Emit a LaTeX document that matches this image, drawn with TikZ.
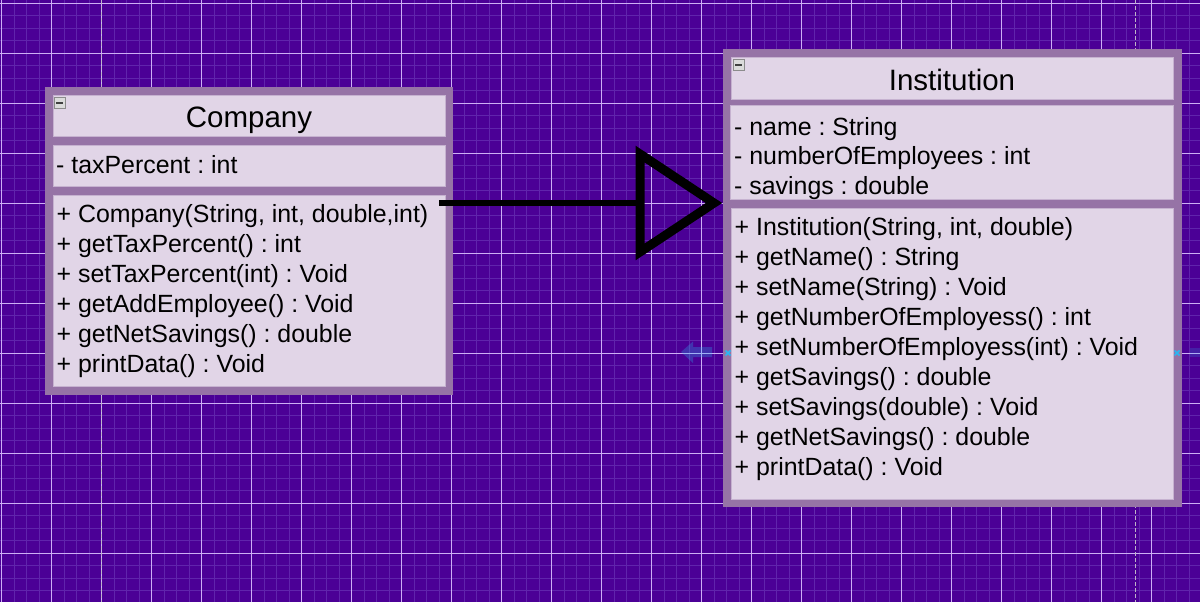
\documentclass[tikz,border=0pt]{standalone}
\usepackage{fontspec}
\setmainfont{Liberation Sans}
\usetikzlibrary{calc}
\frenchspacing
\definecolor{bgc}{RGB}{75,0,150}
\definecolor{minorc}{RGB}{96,36,172}
\definecolor{majorc}{RGB}{205,175,245}
\definecolor{pagec}{RGB}{190,180,200}
\definecolor{framec}{HTML}{9673A6}
\definecolor{compc}{HTML}{E1D5E7}
\definecolor{compb}{HTML}{C6B2D0}
\definecolor{hintc}{HTML}{29B6F2}
\tikzset{
  framebox/.style={rectangle, fill=framec, draw=none, inner sep=0pt, anchor=north west},
  compbox/.style={rectangle, fill=compc, draw=compb, line width=1pt, inner sep=0pt, anchor=north west},
  iconbox/.style={rectangle, fill=black!14, draw=black!45, line width=0.8pt, inner sep=0pt, minimum width=11pt, minimum height=11pt, anchor=north west},
  titletext/.style={inner sep=0pt, anchor=base, font=\fontsize{29.5}{35}\selectfont},
  bodytext/.style={inner sep=0pt, anchor=base west, font=\fontsize{24.9}{30}\selectfont},
  bluex/.style={draw=hintc, line width=1.6pt},
  hintarrow/.style={fill=hintc, fill opacity=0.28, draw=none}
}
\begin{document}
\begin{tikzpicture}[x=1pt, y=-1pt]
\useasboundingbox (0,0) rectangle (1200,602);
% background grid
\fill[bgc] (0,0) rectangle (1200,602);
\foreach \i in {0,...,96} \draw[minorc, line width=0.7pt] ({1.7+12.5*\i},0) -- ({1.7+12.5*\i},602);
\foreach \i in {0,...,48} \draw[minorc, line width=0.7pt] (0,{3.3+12.5*\i}) -- (1200,{3.3+12.5*\i});
\foreach \i in {0,...,24} \draw[majorc, line width=0.7pt] ({1.7+50*\i},0) -- ({1.7+50*\i},602);
\foreach \i in {0,...,12} \draw[majorc, line width=0.7pt] (0,{3.3+50*\i}) -- (1200,{3.3+50*\i});
% page break lines
\draw[pagec, line width=1.5pt, dash pattern=on 4pt off 2pt] (101.7,0) -- (101.7,602);
\draw[pagec, line width=1.5pt, dash pattern=on 4pt off 2pt] (1135.7,0) -- (1135.7,602);

% ---------- Company ----------
\node[framebox, minimum width=408pt, minimum height=308pt] (company) at (45,87) {};
\node[compbox, minimum width=392pt, minimum height=41pt] (companyT) at (53,95) {};
\node[compbox, minimum width=392pt, minimum height=41pt] (companyA) at (53,145) {};
\node[compbox, minimum width=392pt, minimum height=191pt] (companyM) at (53,195) {};
\node[iconbox] (companyI) at (54,97) {};
\draw[black!75, line width=1.8pt] ($(companyI.center)+(-3.5,0)$) -- ($(companyI.center)+(3.5,0)$);
\node[titletext] (companyN) at (249,127) {Company};
\node[bodytext] (ca1) at (56,173) {- taxPercent : int};
\foreach \t [count=\i] in {{+ Company(String, int, double,int)},{+ getTaxPercent() : int},{+ setTaxPercent(int) : Void},{+ getAddEmployee() : Void},{+ getNetSavings() : double},{+ printData() : Void}}
  \node[bodytext] (cm\i) at (56.5,{192+30*\i}) {\t};

% ---------- Institution ----------
\node[framebox, minimum width=459pt, minimum height=458pt] (institution) at (723,49) {};
\node[compbox, minimum width=442pt, minimum height=41pt] (institutionT) at (731,57.5) {};
\node[compbox, minimum width=443.5pt, minimum height=94pt] (institutionA) at (729.5,105) {};
\node[compbox, minimum width=442pt, minimum height=291.5pt] (institutionM) at (731,207.5) {};
\node[iconbox] (institutionI) at (733,59) {};
\draw[black!75, line width=1.8pt] ($(institutionI.center)+(-3.5,0)$) -- ($(institutionI.center)+(3.5,0)$);
\node[titletext] (institutionN) at (952,90) {Institution};
\foreach \t/\y [count=\i] in {{- name : String}/135,{- numberOfEmployees : int}/164.5,{- savings : double}/194}
  \node[bodytext] (ia\i) at (734,\y) {\t};
\foreach \t [count=\i] in {{+ Institution(String, int, double)},{+ getName() : String},{+ setName(String) : Void},{+ getNumberOfEmployess() : int},{+ setNumberOfEmployess(int) : Void},{+ getSavings() : double},{+ setSavings(double) : Void},{+ getNetSavings() : double},{+ printData() : Void}}
  \node[bodytext] (im\i) at (734.5,{205+30*\i}) {\t};

% ---------- inheritance connector ----------
\coordinate (lineStart) at (439,203);
\coordinate (triBase) at (640,203);
\coordinate (triTip) at (714,203);
\draw[black, line width=6pt] (lineStart) -- (triBase);
\draw[black, line width=9pt, line join=miter, miter limit=10] ($(triBase)+(0,-49)$) -- (triTip) -- ($(triBase)+(0,49)$) -- cycle;

% ---------- connection hints ----------
\fill[hintarrow] (681,352) -- (693,341.5) -- (693,347) -- (712,347) -- (712,357) -- (693,357) -- (693,363) -- cycle;
\fill[hintarrow, fill opacity=0.18] (1190,348) rectangle (1200,357);
\draw[bluex] (725.5,350.5) -- (730.5,355.5) (725.5,355.5) -- (730.5,350.5);
\draw[bluex] (1174.5,350.5) -- (1179.5,355.5) (1174.5,355.5) -- (1179.5,350.5);
\end{tikzpicture}
\end{document}
